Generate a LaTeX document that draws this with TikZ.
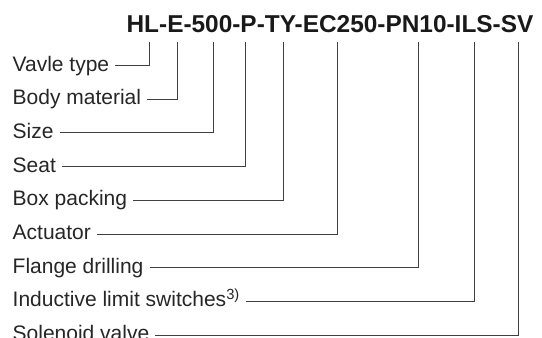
\documentclass[tikz,border=0pt]{standalone}
\usepackage{fontspec}
\setmainfont{Liberation Sans}
\usetikzlibrary{positioning}

\begin{document}
\begin{tikzpicture}[
    code/.style={font=\fontsize{24.4}{24.4}\selectfont\bfseries, text=black!90, inner sep=0pt, anchor=base},
    field/.style={font=\fontsize{21}{21}\selectfont, text=black!85, inner sep=0pt, text height=15pt, text depth=4pt},
    lead/.style={draw=black!75, line width=1pt, shorten <=6pt},
    node distance=14.3pt
  ]
    \useasboundingbox (0,0) rectangle (542pt,-338pt);
    \node[code] (code) at (330pt,-32pt) {HL-E-500-P-TY-EC250-PN10-ILS-SV};
    % tops of the leads, just under the code
    \coordinate (tHL) at (149pt,-42pt);
    \coordinate (tE) at (177pt,-42pt);
    \coordinate (t500) at (213pt,-42pt);
    \coordinate (tP) at (245pt,-42pt);
    \coordinate (tTY) at (283pt,-42pt);
    \coordinate (tEC) at (337pt,-42pt);
    \coordinate (tPN) at (418pt,-42pt);
    \coordinate (tILS) at (474pt,-42pt);
    \coordinate (tSV) at (518pt,-42pt);
    % field names
    \node[field, anchor=base west] (vtype) at (12.5pt,-71pt) {Vavle type};
    \node[field, below=of vtype.south west, anchor=north west] (body) {Body material};
    \node[field, below=of body.south west, anchor=north west] (size) {Size};
    \node[field, below=of size.south west, anchor=north west] (seat) {Seat};
    \node[field, below=of seat.south west, anchor=north west] (box) {Box packing};
    \node[field, below=of box.south west, anchor=north west] (act) {Actuator};
    \node[field, below=of act.south west, anchor=north west] (flange) {Flange drilling};
    \node[field, below=of flange.south west, anchor=north west] (ils) {Inductive limit switches\textsuperscript{3)}};
    \node[field, below=of ils.south west, anchor=north west] (sol) {Solenoid valve};
    \draw[lead] (vtype) -| (tHL);
    \draw[lead] (body) -| (tE);
    \draw[lead] (size) -| (t500);
    \draw[lead] (seat) -| (tP);
    \draw[lead] (box) -| (tTY);
    \draw[lead] (act) -| (tEC);
    \draw[lead] (flange) -| (tPN);
    \draw[lead] (ils) -| (tILS);
    \draw[lead] (sol) -| (tSV);
  \end{tikzpicture}
\end{document}
